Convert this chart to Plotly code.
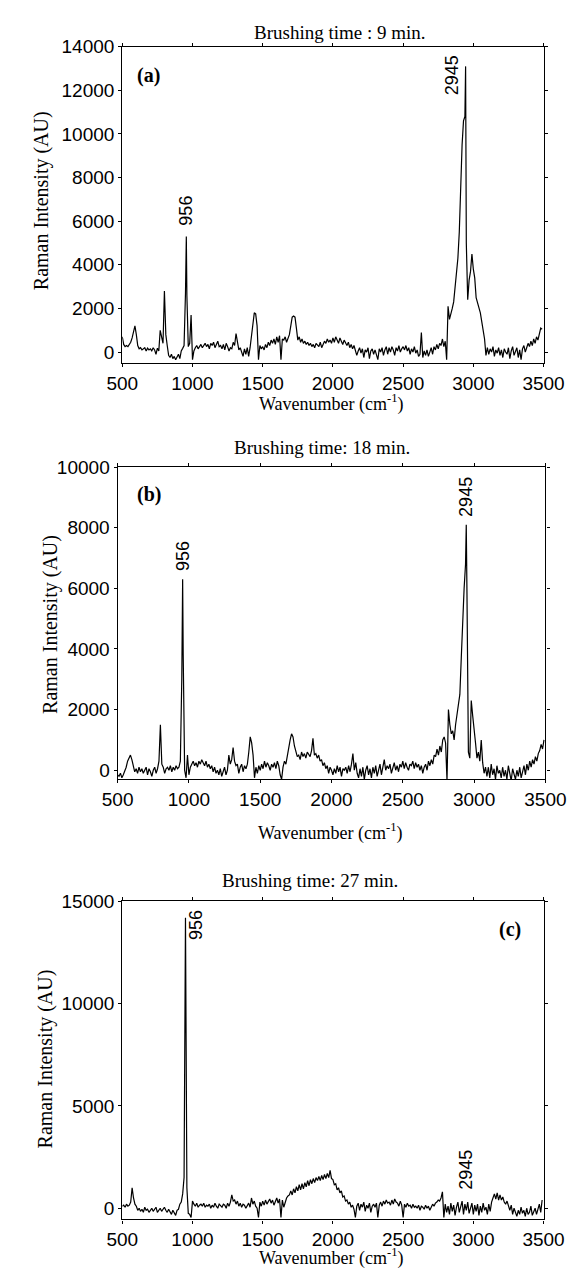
import numpy as np
import plotly.graph_objects as go

W, H = 579, 1269

# ---------------- data ----------------
grid_x = list(range(500, 3500, 10))

ya = [
    700, 350, 250, 300, 250, 350, 450, 650, 1000, 1200,      # 500
    800, 300, 150, 200, 100, 150, 200, 50, 180, 100,         # 600
    150, 60, 200, 100, -100, 180, 50, 1000, 700, 400,        # 700
    2800, 800, 300, -150, -250, -100, -300, -200, -350, -250,  # 800
    -100, -300, 50, 170, 300, 2700, 2600, 250, 400, 1700,    # 900
    -350, 50, 200, 300, 150, 250, 350, 200, 300, 400,        # 1000
    250, 350, 150, 400, 300, 450, 200, 350, 500, 250,        # 1100
    300, 150, 350, 100, 400, 250, 50, 200, 150, 450,         # 1200
    300, 850, 400, 100, 200, 0, -200, 150, -100, 200,        # 1300
    -200, 200, 800, 1400, 1800, 1750, 1200, -350, 300, 150,  # 1400
    250, 100, 350, 200, 450, 300, 550, 400, 600, 350,        # 1500
    700, 450, 750, -350, 600, 550, 700, 450, 650, 800,       # 1600
    1200, 1600, 1650, 1600, 1100, 550, 700, 450, 600, 400,   # 1700
    500, 350, 450, 300, 400, 250, 350, 200, 400, 300,        # 1800
    250, 450, 200, 350, 500, 400, 600, 450, 550, 400,        # 1900
    650, 450, 700, 550, 400, 650, 500, 350, 550, 400,        # 2000
    300, 450, 200, 350, 150, 300, 100, -150, 50, 200,        # 2100
    -50, 150, -250, 100, 0, 200, -300, 50, 150, -100,        # 2200
    100, -200, -350, 150, 0, 200, -150, 100, 250, -100,      # 2300
    200, 0, 250, 100, -150, 200, 50, 300, 0, 150,            # 2400
    250, 100, 300, 50, 200, -100, 150, 0, 250, -50,          # 2500
    100, -200, -100, 900, -250, 50, -150, 100, -200, 0,      # 2600
    200, -100, 250, 100, 350, 150, 400, 300, 600, 250,       # 2700
    500, -350, 2100, 1500, 1700, 2000, 2300, 2900, 3500, 4300,  # 2800
    5500, 8000, 9500, 10600, 10800, 5000, 2400, 3300, 3700, 4500,  # 2900
    3800, 3400, 2500, 2300, 2000, 1800, 1400, 1000, 600, -150,  # 3000
    200, -100, 150, 0, 250, -200, 100, -50, 200, -150,       # 3100
    100, -250, 150, 0, -100, 200, -300, 50, 250, -150,       # 3200
    0, 200, -250, 100, -350, 150, 300, 0, 200, 400,          # 3300
    250, 500, 300, 600, 400, 700, 550, 800, 1100, 1050,      # 3400
]
peaks_a_x = [956, 2945]
peaks_a_y = [5300, 13100]

yb = [
    -150, -200, -100, -250, -150, -50, 100, 300, 400, 500,   # 500
    350, 100, -50, 50, -100, 100, -50, 50, -100, 0,          # 600
    100, -150, 50, -50, -200, 0, 100, -100, 50, 300,         # 700
    1500, 200, 100, -100, 50, 100, 0, 150, -50, 100,         # 800
    0, 150, 50, 100, 300, 3000, 3800, 0, -250, 500,          # 900
    -150, 100, 200, 300, 150, 250, 100, 300, 200, 350,       # 1000
    250, 150, 300, 100, 200, 50, 150, -50, 100, -100,        # 1100
    0, -150, 50, -200, -50, 100, -150, 0, 500, 200,          # 1200
    350, 750, 300, 150, 200, -100, 100, 200, -50, 150,       # 1300
    50, 200, 600, 1100, 900, 500, -250, 100, -100, 150,      # 1400
    0, 200, 50, 300, 100, 250, 150, 0, 200, 100,             # 1500
    250, 50, 300, 150, -150, -300, 100, 300, 200, 500,       # 1600
    700, 1000, 1200, 1100, 800, 600, 450, 500, 350, 600,     # 1700
    450, 550, 400, 600, 500, 450, 650, 1050, 500, 550,       # 1800
    400, 500, 300, 350, 150, 250, 50, 150, -100, 100,        # 1900
    0, -150, 50, -100, 150, -50, 100, -200, 50, 0,           # 2000
    100, -100, 150, -50, 200, 550, 0, 250, -100, -250,       # 2100
    50, -200, 100, -300, 0, 150, -150, 50, -250, 100,        # 2200
    -100, 150, -200, 50, 200, -150, 100, 350, 0, 150,        # 2300
    50, 200, -100, 100, 250, 0, 150, -50, 200, 100,          # 2400
    300, 50, 250, 100, 0, 200, 150, 300, 50, 250,            # 2500
    100, 200, 0, 150, -100, 100, 200, 0, 300, 150,           # 2600
    350, 200, 500, 450, 700, 500, 800, 600, 1000, 1100,      # 2700
    900, -350, 2000, 1500, 1200, 1300, 1000, 1500, 1900, 2300,  # 2800
    2500, 3700, 5200, 6000, 6800, 5800, 600, 400, 2300, 1800,   # 2900
    1200, 900, 400, 600, 300, 1000, 250, -100, 100, -200,    # 3000
    100, -250, 200, -150, 50, -300, 150, -100, 0, -250,      # 3100
    100, -200, 0, -300, 150, -150, -350, 50, -100, -300,     # 3200
    0, -200, 100, -250, -50, 150, -150, 200, 0, 300,         # 3300
    100, 350, 200, 450, 300, 550, 650, 850, 700, 1000,       # 3400
]
peaks_b_x = [956, 2945]
peaks_b_y = [6300, 8100]

yc = [
    100, 150, 50, 200, 100, 150, 300, 1000, 500, 200,        # 500
    100, -100, 0, -150, -50, -200, 50, -100, -50, -200,      # 600
    -100, 0, -150, -50, 50, -200, -100, 0, -150, -50,        # 700
    50, -100, -200, -50, -150, -300, -100, -250, -350, -100, # 800
    -50, 200, 300, 700, 1500, 14200, 1000, -250, -300, -450, # 900
    350, 200, 100, 250, 50, 150, 200, 100, 250, 50,          # 1000
    150, 100, 200, 0, 150, 50, 250, 100, 0, 200,             # 1100
    100, 50, 200, 150, 0, 250, 100, 300, 650, 350,           # 1200
    400, 200, 350, 100, 250, 50, 200, 150, 0, 100,           # 1300
    250, 50, 500, 200, 350, 100, 0, -450, 300, 100,          # 1400
    350, 150, 400, 200, 300, 450, 250, 400, 150, 300,        # 1500
    500, 250, 450, -450, 400, 50, 300, 500, 600, 650,        # 1600
    850, 650, 950, 750, 1050, 850, 1150, 900, 1200, 950,     # 1700
    1250, 1050, 1350, 1100, 1400, 1200, 1450, 1250, 1500, 1350,  # 1800
    1550, 1350, 1600, 1400, 1650, 1450, 1700, 1500, 1850, 1450,  # 1900
    1400, 1150, 1200, 900, 1000, 750, 850, 550, 600, 350,    # 2000
    400, 200, 300, 50, 150, -50, -450, 100, 250, -100,       # 2100
    200, 50, 300, -150, 150, 0, 250, -200, 100, 200,         # 2200
    50, 250, -450, 150, 300, 100, 350, 200, 400, 250,        # 2300
    300, 150, 400, 200, 450, 300, 250, 100, 350, 150,        # 2400
    -450, 200, 50, 250, 100, 150, 0, 200, 50, 100,           # 2500
    0, 150, -100, 100, 50, -50, 150, 0, 100, -100,           # 2600
    50, 200, 100, 250, 300, 400, 350, 500, 800, -450,        # 2700
    200, -200, 100, -300, 250, -150, 150, -350, 50, 300,     # 2800
    -200, 100, 350, -300, 200, -100, 300, -250, 0, 250,      # 2900
    -300, 150, -150, 200, -350, 100, -200, 250, -100, 50,    # 3000
    -300, 200, -150, 300, 500, 700, 450, 750, 400, 650,      # 3100
    400, 550, 300, 200, 350, 100, -100, 150, -300, 0,        # 3200
    -200, -400, -100, -300, 50, -250, -100, -400, 0, -300,   # 3300
    -200, 100, -350, -150, 0, -300, -100, 200, -200, 400,    # 3400
]
peaks_c_x = [956]
peaks_c_y = [7300]

titles = ["Brushing time : 9 min.", "Brushing time: 18 min.", "Brushing time: 27 min."]
panel_tags = ["(a)", "(b)", "(c)"]
x_ticks = [500, 1000, 1500, 2000, 2500, 3000, 3500]
y_ticks_a = [0, 2000, 4000, 6000, 8000, 10000, 12000, 14000]
y_ticks_b = [0, 2000, 4000, 6000, 8000, 10000]
y_ticks_c = [0, 5000, 10000, 15000]


def merge(gx, gy, px, py):
    pts = sorted(list(zip(gx, gy)) + list(zip(px, py)))
    return [p[0] for p in pts], [p[1] for p in pts]


xa, yya = merge(grid_x, ya, peaks_a_x, peaks_a_y)
xb, yyb = merge(grid_x, yb, peaks_b_x, peaks_b_y)
xc, yyc = merge(grid_x, yc, peaks_c_x, peaks_c_y)

# ---------------- layout helpers ----------------
def px(x):
    return x / W


def py(y):
    return 1 - y / H


SANS = "Liberation Sans, Arial, sans-serif"
SERIF = "Liberation Serif, Times New Roman, serif"

panels = [
    # (x, y, xdom px, ydom px(top,bottom), yrange, yticks)
    (xa, yya, (105, 555), (29, 348), [-500, 14000], y_ticks_a),
    (xb, yyb, (100, 557), (453, 768), [-300, 10000], y_ticks_b),
    (xc, yyc, (105, 555), (891, 1212), [-550, 15000], y_ticks_c),
]

fig = go.Figure()
layout = dict(
    width=W, height=H, margin=dict(l=0, r=0, t=0, b=0),
    paper_bgcolor="white", plot_bgcolor="white", showlegend=False,
)
for i, (x, y, xd, yd, yr, yt) in enumerate(panels):
    n = "" if i == 0 else str(i + 1)
    fig.add_trace(go.Scatter(x=x, y=y, mode="lines",
                             line=dict(color="black", width=1.2),
                             xaxis="x" + n, yaxis="y" + n))
    axis_common = dict(showline=True, linecolor="black", linewidth=1.2,
                       mirror="allticks", ticks="outside", ticklen=3,
                       tickcolor="black", showgrid=False, zeroline=False,
                       tickformat="d",
                       tickfont=dict(family=SANS, size=19, color="black"))
    layout["xaxis" + n] = dict(axis_common, domain=[px(xd[0]), px(xd[1])],
                               range=[500, 3500], tickvals=x_ticks,
                               anchor="y" + n)
    layout["yaxis" + n] = dict(axis_common, domain=[py(yd[1]), py(yd[0])],
                               range=yr, tickvals=yt, anchor="x" + n)

fig.update_layout(**layout)

ann = []
# titles
for t, (cx, cy) in zip(titles, [(338, 15), (318, 433), (306, 870)]):
    ann.append(dict(text=t, x=px(cx), y=py(cy), xref="paper", yref="paper",
                    showarrow=False, xanchor="center", yanchor="middle",
                    font=dict(family=SERIF, size=19, color="black")))
# x labels
for cy, cx in [(388, 328), (821, 327), (1250, 329)]:
    ann.append(dict(text="Wavenumber (cm<sup>-1</sup>)", x=px(cx), y=py(cy),
                    xref="paper", yref="paper", showarrow=False,
                    xanchor="center", yanchor="middle",
                    font=dict(family=SERIF, size=18, color="black")))
# y labels
for cx, cy in [(19, 184), (28, 612), (23, 1050)]:
    ann.append(dict(text="Raman Intensity (AU)", x=px(cx), y=py(cy),
                    xref="paper", yref="paper", showarrow=False, textangle=-90,
                    xanchor="center", yanchor="middle",
                    font=dict(family=SERIF, size=20, color="black")))
# panel tags
for t, (cx, cy) in zip(panel_tags, [(133, 58), (133, 481), (519, 919)]):
    ann.append(dict(text="<b>" + t + "</b>", x=px(cx), y=py(cy),
                    xref="paper", yref="paper", showarrow=False,
                    xanchor="center", yanchor="middle",
                    font=dict(family=SERIF, size=20, color="black")))
# peak labels (data coords)
peak_labels = [
    ("x", "y", 956, 6500, "956"), ("x", "y", 2850, 12700, "2945"),
    ("x2", "y2", 960, 7070, "956"), ("x2", "y2", 2946, 9030, "2945"),
    ("x3", "y3", 1027, 13850, "956"), ("x3", "y3", 2947, 1870, "2945"),
]
for xr, yr_, xv, yv, t in peak_labels:
    ann.append(dict(text=t, x=xv, y=yv, xref=xr, yref=yr_, showarrow=False,
                    textangle=-90, xanchor="center", yanchor="middle",
                    font=dict(family=SANS, size=18, color="black")))
fig.update_layout(annotations=ann)

fig.write_html("out.html")
